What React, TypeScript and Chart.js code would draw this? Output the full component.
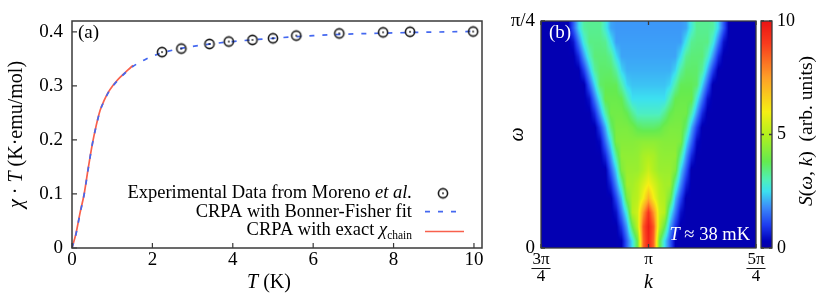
import React, { useEffect, useRef } from 'react';
import { Chart, registerables } from 'chart.js';

Chart.register(...registerables);
Chart.defaults.color = '#000';

const SERIF = "'Liberation Serif', 'DejaVu Serif', serif";

// ---------------- Panel (a) data ----------------
const expT = [2.24, 2.72, 3.42, 3.9, 4.49, 5.0, 5.58, 6.65, 7.74, 8.41, 9.98];
const expChiT = [0.3625, 0.369, 0.3775, 0.382, 0.385, 0.388, 0.393, 0.397, 0.399, 0.4, 0.4005];
const bfT = [0, 0.1, 0.2, 0.3, 0.4, 0.5, 0.6, 0.7, 0.8, 0.9, 1.0, 1.2, 1.4, 1.6, 1.8, 2.0, 2.5, 3.0, 3.5, 4.0, 5.0, 6.0, 7.0, 8.0, 9.0, 10.0];
const bfChiT = [0, 0.026, 0.064, 0.098, 0.145, 0.19, 0.225, 0.254, 0.272, 0.287, 0.298, 0.315, 0.329, 0.34, 0.348, 0.355, 0.366, 0.373, 0.378, 0.382, 0.388, 0.393, 0.396, 0.398, 0.3995, 0.4008];
const exactT = [0, 0.1, 0.2, 0.3, 0.4, 0.5, 0.6, 0.7, 0.8, 0.9, 1.0, 1.1, 1.2, 1.3, 1.4, 1.52];
const exactChiT = [0, 0.027, 0.065, 0.099, 0.146, 0.19, 0.226, 0.255, 0.273, 0.288, 0.299, 0.308, 0.316, 0.323, 0.33, 0.338];
const tTicks = [0, 2, 4, 6, 8, 10];
const tTickLabels = ['0', '2', '4', '6', '8', '10'];
const chiTicks = [0, 0.1, 0.2, 0.3, 0.4];
const chiTickLabels = ['0', '0.1', '0.2', '0.3', '0.4'];

// ---------------- Panel (b) data ----------------
// k in units of pi, omega in units of pi
const kCols = [0.75, 0.7625, 0.775, 0.7875, 0.8, 0.8125, 0.825, 0.8375, 0.85, 0.8625, 0.875, 0.8875, 0.9, 0.9125, 0.925, 0.9375, 0.95, 0.9625, 0.975, 0.9875, 1.0, 1.0125, 1.025, 1.0375, 1.05, 1.0625, 1.075, 1.0875, 1.1, 1.1125, 1.125, 1.1375, 1.15, 1.1625, 1.175, 1.1875, 1.2, 1.2125, 1.225, 1.2375, 1.25];
const omegaRows = [0.0078, 0.0234, 0.0391, 0.0547, 0.0703, 0.0859, 0.1016, 0.1172, 0.1328, 0.1484, 0.1641, 0.1797, 0.1953, 0.2109, 0.2266, 0.2422];
const intensity = [
  [0.2,0.2,0.2,0.2,0.2,0.2,0.2,0.2,0.2,0.2,0.2,0.2,0.2,0.2,0.2,0.3,1.4,2.5,4.0,8.3,9.6,8.3,4.0,2.5,1.4,0.3,0.2,0.2,0.2,0.2,0.2,0.2,0.2,0.2,0.2,0.2,0.2,0.2,0.2,0.2,0.2],
  [0.2,0.2,0.2,0.2,0.2,0.2,0.2,0.2,0.2,0.2,0.2,0.2,0.2,0.2,0.2,0.9,2.0,3.8,5.2,8.5,9.8,8.5,5.2,3.8,2.0,0.9,0.2,0.2,0.2,0.2,0.2,0.2,0.2,0.2,0.2,0.2,0.2,0.2,0.2,0.2,0.2],
  [0.2,0.2,0.2,0.2,0.2,0.2,0.2,0.2,0.2,0.2,0.2,0.2,0.2,0.2,0.5,1.6,2.8,5.0,5.4,7.6,9.2,7.6,5.4,5.0,2.8,1.6,0.5,0.2,0.2,0.2,0.2,0.2,0.2,0.2,0.2,0.2,0.2,0.2,0.2,0.2,0.2],
  [0.2,0.2,0.2,0.2,0.2,0.2,0.2,0.2,0.2,0.2,0.2,0.2,0.2,0.2,1.1,2.2,4.1,4.9,5.1,6.0,7.2,6.0,5.1,4.9,4.1,2.2,1.1,0.2,0.2,0.2,0.2,0.2,0.2,0.2,0.2,0.2,0.2,0.2,0.2,0.2,0.2],
  [0.2,0.2,0.2,0.2,0.2,0.2,0.2,0.2,0.2,0.2,0.2,0.2,0.2,0.7,1.8,3.1,4.75,4.75,5.0,5.5,6.0,5.5,5.0,4.75,4.75,3.1,1.8,0.7,0.2,0.2,0.2,0.2,0.2,0.2,0.2,0.2,0.2,0.2,0.2,0.2,0.2],
  [0.2,0.2,0.2,0.2,0.2,0.2,0.2,0.2,0.2,0.2,0.2,0.2,0.2,1.3,2.4,4.2,4.6,4.6,4.6,4.9,5.3,4.9,4.6,4.6,4.6,4.2,2.4,1.3,0.2,0.2,0.2,0.2,0.2,0.2,0.2,0.2,0.2,0.2,0.2,0.2,0.2],
  [0.2,0.2,0.2,0.2,0.2,0.2,0.2,0.2,0.2,0.2,0.2,0.2,0.8,1.9,3.3,4.45,4.45,4.45,4.5,4.8,4.9,4.8,4.5,4.45,4.45,4.45,3.3,1.9,0.8,0.2,0.2,0.2,0.2,0.2,0.2,0.2,0.2,0.2,0.2,0.2,0.2],
  [0.2,0.2,0.2,0.2,0.2,0.2,0.2,0.2,0.2,0.2,0.2,0.4,1.5,2.6,4.2,4.3,4.3,4.3,4.35,4.4,4.4,4.4,4.35,4.3,4.3,4.3,4.2,2.6,1.5,0.4,0.2,0.2,0.2,0.2,0.2,0.2,0.2,0.2,0.2,0.2,0.2],
  [0.2,0.2,0.2,0.2,0.2,0.2,0.2,0.2,0.2,0.2,0.2,1.0,2.1,3.5,4.15,4.15,4.15,4.0,3.7,3.6,3.6,3.6,3.7,4.0,4.15,4.15,4.15,3.5,2.1,1.0,0.2,0.2,0.2,0.2,0.2,0.2,0.2,0.2,0.2,0.2,0.2],
  [0.2,0.2,0.2,0.2,0.2,0.2,0.2,0.2,0.2,0.2,0.8,1.9,3.1,4.0,4.0,4.0,3.8,3.3,2.9,2.9,2.9,2.9,2.9,3.3,3.8,4.0,4.0,4.0,3.1,1.9,0.8,0.2,0.2,0.2,0.2,0.2,0.2,0.2,0.2,0.2,0.2],
  [0.2,0.2,0.2,0.2,0.2,0.2,0.2,0.2,0.2,0.5,1.6,2.7,3.9,3.9,3.9,3.8,3.1,2.5,2.5,2.5,2.5,2.5,2.5,2.5,3.1,3.8,3.9,3.9,3.9,2.7,1.6,0.5,0.2,0.2,0.2,0.2,0.2,0.2,0.2,0.2,0.2],
  [0.2,0.2,0.2,0.2,0.2,0.2,0.2,0.2,0.2,1.3,2.4,3.6,3.75,3.75,3.75,3.1,2.4,2.25,2.25,2.25,2.25,2.25,2.25,2.25,2.4,3.1,3.75,3.75,3.75,3.6,2.4,1.3,0.2,0.2,0.2,0.2,0.2,0.2,0.2,0.2,0.2],
  [0.2,0.2,0.2,0.2,0.2,0.2,0.2,0.2,1.0,2.1,3.2,3.6,3.6,3.6,3.2,2.4,2.1,2.1,2.1,2.1,2.1,2.1,2.1,2.1,2.1,2.4,3.2,3.6,3.6,3.6,3.2,2.1,1.0,0.2,0.2,0.2,0.2,0.2,0.2,0.2,0.2],
  [0.2,0.2,0.2,0.2,0.2,0.2,0.2,0.8,1.9,2.9,3.5,3.5,3.5,3.3,2.5,2.0,2.0,2.0,2.0,2.0,2.0,2.0,2.0,2.0,2.0,2.0,2.5,3.3,3.5,3.5,3.5,2.9,1.9,0.8,0.2,0.2,0.2,0.2,0.2,0.2,0.2],
  [0.2,0.2,0.2,0.2,0.2,0.2,0.5,1.6,2.7,3.4,3.4,3.4,3.3,2.6,1.95,1.95,1.95,1.95,1.95,1.95,1.95,1.95,1.95,1.95,1.95,1.95,1.95,2.6,3.3,3.4,3.4,3.4,2.7,1.6,0.5,0.2,0.2,0.2,0.2,0.2,0.2],
  [0.2,0.2,0.2,0.2,0.2,0.2,1.3,2.4,3.2,3.3,3.3,3.3,2.7,2.0,1.9,1.9,1.9,1.9,1.9,1.9,1.9,1.9,1.9,1.9,1.9,1.9,1.9,2.0,2.7,3.3,3.3,3.3,3.2,2.4,1.3,0.2,0.2,0.2,0.2,0.2,0.2],
];
const kTicks = [0.75, 1.0, 1.25];
const kTickLabels = [['3π', '4'], ['π'], ['5π', '4']];
const omegaTicks = [0, 0.25];
const omegaTickLabels = ['0', 'π/4'];
const cbarTicks = [0, 5, 10];
const cbarTickLabels = ['0', '5', '10'];

// colour map (style)
const cmapStops = [0, 0.3, 1.0, 1.8, 2.5, 3.0, 3.8, 5.0, 6.0, 7.5, 9.0, 10];
const cmapColors = [
  [10, 0, 165], [0, 0, 185], [30, 60, 240], [60, 140, 250], [60, 225, 240], [80, 240, 185],
  [100, 235, 80], [180, 240, 30], [245, 240, 20], [255, 160, 40], [250, 60, 30], [235, 20, 20],
];

const BLUE = '#4468f0';
const RED = '#f8604c';
const FRAME = '#3a3a3a';

function locate(arr: number[], v: number): [number, number] {
  const n = arr.length;
  if (v <= arr[0]) return [0, 0];
  if (v >= arr[n - 1]) return [n - 2, 1];
  let lo = 0, hi = n - 1;
  while (hi - lo > 1) {
    const mid = (lo + hi) >> 1;
    if (arr[mid] <= v) lo = mid; else hi = mid;
  }
  return [lo, (v - arr[lo]) / (arr[hi] - arr[lo])];
}

function cmap(v: number): number[] {
  const [i, t] = locate(cmapStops, v);
  const c0 = cmapColors[i], c1 = cmapColors[i + 1];
  return [c0[0] + (c1[0] - c0[0]) * t, c0[1] + (c1[1] - c0[1]) * t, c0[2] + (c1[2] - c0[2]) * t];
}

type Part = { t: string; it?: boolean; sub?: boolean };
function font(size: number, it?: boolean) {
  return `${it ? 'italic ' : ''}${size}px ${SERIF}`;
}
function drawRich(ctx: CanvasRenderingContext2D, parts: Part[], x: number, y: number, size: number,
  align: 'left' | 'center' | 'right', color: string, rot = 0) {
  ctx.save();
  ctx.translate(x, y);
  ctx.rotate(rot);
  ctx.textBaseline = 'middle';
  ctx.textAlign = 'left';
  ctx.fillStyle = color;
  let w = 0;
  const ws = parts.map((p) => {
    ctx.font = font(p.sub ? size * 0.62 : size, p.it);
    const m = ctx.measureText(p.t).width;
    w += m;
    return m;
  });
  let cx = align === 'left' ? 0 : align === 'center' ? -w / 2 : -w;
  parts.forEach((p, i) => {
    ctx.font = font(p.sub ? size * 0.62 : size, p.it);
    ctx.fillText(p.t, cx, p.sub ? size * 0.32 : 0);
    cx += ws[i];
  });
  ctx.restore();
}

function makeCircle() {
  const c = document.createElement('canvas');
  c.width = 14; c.height = 14;
  const g = c.getContext('2d')!;
  g.strokeStyle = '#1a1a1a';
  g.lineWidth = 1.6;
  g.beginPath(); g.arc(7, 7, 4.6, 0, Math.PI * 2); g.stroke();
  g.fillStyle = '#1a1a1a';
  g.beginPath(); g.arc(7, 7, 0.9, 0, Math.PI * 2); g.fill();
  return c;
}

function setTicks(values: number[]) {
  return (s: any) => { s.ticks = values.map((v) => ({ value: v })); };
}

const TITLE = 20;
const LEG = 18.5;

const panelAPlugin = {
  id: 'panelA',
  afterDraw(chart: any) {
    const { ctx, chartArea: a, scales: { x, y } } = chart;
    ctx.save();
    ctx.strokeStyle = FRAME;
    ctx.lineWidth = 1.5;
    ctx.strokeRect(a.left, a.top, a.right - a.left, a.bottom - a.top);
    ctx.lineWidth = 1.2;
    ctx.beginPath();
    tTicks.forEach((v) => { const px = x.getPixelForValue(v); ctx.moveTo(px, a.bottom); ctx.lineTo(px, a.bottom - 5); });
    chiTicks.forEach((v) => { const py = y.getPixelForValue(v); ctx.moveTo(a.left, py); ctx.lineTo(a.left + 5, py); });
    ctx.stroke();
    ctx.restore();

    drawRich(ctx, [{ t: '(a)' }], a.left + 6, a.top + 12, 19, 'left', '#000');
    // axis titles
    drawRich(ctx, [{ t: 'T', it: true }, { t: ' (K)' }], x.getPixelForValue(5) - 4, 283, TITLE, 'center', '#000');
    drawRich(ctx, [{ t: 'χ', it: true }, { t: ' · ' }, { t: 'T', it: true }, { t: ' (K·emu/mol)' }],
      17, (a.top + a.bottom) / 2, TITLE, 'center', '#000', -Math.PI / 2);

    // legend
    const tx = 412, mx0 = 425, mx1 = 464;
    const rows = [193.3, 211.7, 230];
    drawRich(ctx, [{ t: 'Experimental Data from Moreno ' }, { t: 'et al.', it: true }], tx, rows[0], LEG, 'right', '#000');
    drawRich(ctx, [{ t: 'CRPA with Bonner-Fisher fit' }], tx, rows[1], LEG, 'right', '#000');
    drawRich(ctx, [{ t: 'CRPA with exact ' }, { t: 'χ', it: true }, { t: 'chain', sub: true }], tx, rows[2], LEG, 'right', '#000');
    ctx.save();
    ctx.drawImage(circleImg, 443 - 7, rows[0] - 7);
    ctx.strokeStyle = BLUE;
    ctx.lineWidth = 1.7;
    ctx.setLineDash([5, 8]);
    ctx.beginPath(); ctx.moveTo(mx0, rows[1]); ctx.lineTo(mx1, rows[1]); ctx.stroke();
    ctx.setLineDash([]);
    ctx.strokeStyle = RED;
    ctx.beginPath(); ctx.moveTo(mx0, rows[2] + 1.5); ctx.lineTo(mx1, rows[2] + 1.5); ctx.stroke();
    ctx.restore();
  },
};

const heatPlugin = {
  id: 'heat',
  beforeDatasetsDraw(chart: any) {
    const { ctx, chartArea: a, scales: { x, y } } = chart;
    const L = Math.round(a.left), T = Math.round(a.top);
    const W = Math.round(a.right) - L, H = Math.round(a.bottom) - T;
    const img = ctx.createImageData(W, H);
    const cols: [number, number][] = [];
    for (let px = 0; px < W; px++) cols.push(locate(kCols, x.getValueForPixel(L + px + 0.5)));
    for (let py = 0; py < H; py++) {
      const [ri, rt] = locate(omegaRows, y.getValueForPixel(T + py + 0.5));
      const r0 = intensity[ri], r1 = intensity[ri + 1];
      for (let px = 0; px < W; px++) {
        const [cj, ct] = cols[px];
        const v0 = r0[cj] + (r0[cj + 1] - r0[cj]) * ct;
        const v1 = r1[cj] + (r1[cj + 1] - r1[cj]) * ct;
        const c = cmap(v0 + (v1 - v0) * rt);
        const o = (py * W + px) * 4;
        img.data[o] = c[0]; img.data[o + 1] = c[1]; img.data[o + 2] = c[2]; img.data[o + 3] = 255;
      }
    }
    ctx.putImageData(img, L, T);
  },
  afterDraw(chart: any) {
    const { ctx, chartArea: a, scales: { x, y } } = chart;
    ctx.save();
    ctx.strokeStyle = FRAME;
    ctx.lineWidth = 1.3;
    ctx.strokeRect(a.left, a.top, a.right - a.left, a.bottom - a.top);
    ctx.beginPath();
    kTicks.forEach((v) => {
      const px = x.getPixelForValue(v);
      ctx.moveTo(px, a.bottom); ctx.lineTo(px, a.bottom - 4);
      ctx.moveTo(px, a.top); ctx.lineTo(px, a.top + 4);
    });
    omegaTicks.forEach((v) => {
      const py = y.getPixelForValue(v);
      ctx.moveTo(a.left, py); ctx.lineTo(a.left + 4, py);
    });
    ctx.stroke();
    // fraction bars under tick numerators
    ctx.font = font(17);
    ctx.strokeStyle = '#000';
    ctx.lineWidth = 0.9;
    kTicks.forEach((v, i) => {
      const lab = kTickLabels[i];
      if (lab.length > 1) {
        const w = ctx.measureText(lab[0]).width + 2;
        const px = x.getPixelForValue(v);
        ctx.beginPath();
        ctx.moveTo(px - w / 2, a.bottom + 20.5); ctx.lineTo(px + w / 2, a.bottom + 20.5);
        ctx.stroke();
      }
    });
    ctx.restore();
    drawRich(ctx, [{ t: '(b)' }], a.left + 8, a.top + 12, 19, 'left', '#fff');
    drawRich(ctx, [{ t: 'T', it: true }, { t: ' ≈ 38 mK' }], a.right - 6, a.bottom - 13, 18.5, 'right', '#fff');
    drawRich(ctx, [{ t: 'k', it: true }], x.getPixelForValue(1), a.bottom + 35, TITLE, 'center', '#000');
    drawRich(ctx, [{ t: 'ω', it: true }], 28, (a.top + a.bottom) / 2, TITLE, 'center', '#000', -Math.PI / 2);
  },
};

const cbarPlugin = {
  id: 'cbar',
  beforeDatasetsDraw(chart: any) {
    const { ctx, chartArea: a, scales: { y } } = chart;
    const T = Math.round(a.top), B = Math.round(a.bottom);
    for (let py = T; py < B; py++) {
      const c = cmap(y.getValueForPixel(py + 0.5));
      ctx.fillStyle = `rgb(${c[0] | 0},${c[1] | 0},${c[2] | 0})`;
      ctx.fillRect(a.left, py, a.right - a.left, 1);
    }
  },
  afterDraw(chart: any) {
    const { ctx, chartArea: a, scales: { y } } = chart;
    ctx.save();
    ctx.strokeStyle = FRAME;
    ctx.lineWidth = 1.3;
    ctx.strokeRect(a.left, a.top, a.right - a.left, a.bottom - a.top);
    ctx.beginPath();
    cbarTicks.forEach((v) => {
      const py = y.getPixelForValue(v);
      ctx.moveTo(a.left, py); ctx.lineTo(a.left + 3, py);
      ctx.moveTo(a.right, py); ctx.lineTo(a.right - 3, py);
    });
    ctx.stroke();
    ctx.restore();
    drawRich(ctx, [{ t: 'S', it: true }, { t: '(' }, { t: 'ω', it: true }, { t: ', ' }, { t: 'k', it: true }, { t: ')  (arb. units)' }],
      52, 131, 19.5, 'center', '#000', -Math.PI / 2);
  },
};

let circleImg: HTMLCanvasElement;

export default function App() {
  const aRef = useRef<HTMLCanvasElement>(null);
  const bRef = useRef<HTMLCanvasElement>(null);
  const cRef = useRef<HTMLCanvasElement>(null);

  useEffect(() => {
    circleImg = makeCircle();
    const tickFont = { family: SERIF, size: 19, lineHeight: 1 };
    const noGrid = { display: false, drawTicks: false };
    const noBorder = { display: false };

    const chartA = new Chart(aRef.current!, {
      type: 'line',
      data: {
        datasets: [
          {
            label: 'Experimental Data from Moreno et al.',
            data: expT.map((t, i) => ({ x: t, y: expChiT[i] })),
            showLine: false,
            pointStyle: circleImg,
            pointRadius: 5,
            order: 0,
          },
          {
            label: 'CRPA with Bonner-Fisher fit',
            data: bfT.map((t, i) => ({ x: t, y: bfChiT[i] })),
            borderColor: BLUE,
            borderWidth: 1.7,
            borderDash: [5, 8],
            pointRadius: 0,
            cubicInterpolationMode: 'monotone',
            fill: false,
            order: 1,
          },
          {
            label: 'CRPA with exact χchain',
            data: exactT.map((t, i) => ({ x: t, y: exactChiT[i] })),
            borderColor: RED,
            borderWidth: 1.7,
            pointRadius: 0,
            cubicInterpolationMode: 'monotone',
            fill: false,
            order: 2,
          },
        ],
      } as any,
      options: {
        responsive: false,
        animation: false,
        devicePixelRatio: 1,
        layout: { padding: { top: 21, right: 18, left: 0, bottom: 0 } },
        plugins: { legend: { display: false }, tooltip: { enabled: false } },
        scales: {
          x: {
            type: 'linear', min: 0, max: 10.2,
            afterBuildTicks: setTicks(tTicks),
            afterFit: (s: any) => { s.height = 49; s.paddingLeft = 0; s.paddingRight = 0; },
            grid: noGrid, border: noBorder,
            ticks: { font: tickFont, padding: 3, maxRotation: 0, autoSkip: false, callback: (_v: any, i: number) => tTickLabels[i] },
          },
          y: {
            type: 'linear', min: 0, max: 0.42,
            afterBuildTicks: setTicks(chiTicks),
            afterFit: (s: any) => { s.width = 72; s.paddingTop = 0; s.paddingBottom = 0; },
            grid: noGrid, border: noBorder,
            ticks: { font: tickFont, padding: 9, autoSkip: false, callback: (_v: any, i: number) => chiTickLabels[i] },
          },
        },
      } as any,
      plugins: [panelAPlugin],
    });

    const chartB = new Chart(bRef.current!, {
      type: 'scatter',
      data: { datasets: [] },
      options: {
        responsive: false,
        animation: false,
        devicePixelRatio: 1,
        layout: { padding: { top: 21, right: 24, left: 0, bottom: 0 } },
        plugins: { legend: { display: false }, tooltip: { enabled: false } },
        scales: {
          x: {
            type: 'linear', min: 0.75, max: 1.25,
            afterBuildTicks: setTicks(kTicks),
            afterFit: (s: any) => { s.height = 49; s.paddingLeft = 0; s.paddingRight = 0; },
            grid: noGrid, border: noBorder,
            ticks: { font: { family: SERIF, size: 17, lineHeight: 1 }, padding: 3, maxRotation: 0, autoSkip: false, callback: (_v: any, i: number) => kTickLabels[i] },
          },
          y: {
            type: 'linear', min: 0, max: 0.25,
            afterBuildTicks: setTicks(omegaTicks),
            afterFit: (s: any) => { s.width = 51; s.paddingTop = 0; s.paddingBottom = 0; },
            grid: noGrid, border: noBorder,
            ticks: { font: tickFont, padding: 6, autoSkip: false, callback: (_v: any, i: number) => omegaTickLabels[i] },
          },
        },
      } as any,
      plugins: [heatPlugin],
    });

    const chartC = new Chart(cRef.current!, {
      type: 'scatter',
      data: { datasets: [] },
      options: {
        responsive: false,
        animation: false,
        devicePixelRatio: 1,
        layout: { padding: { top: 21, right: 0, left: 6, bottom: 49 } },
        plugins: { legend: { display: false }, tooltip: { enabled: false } },
        scales: {
          x: { type: 'linear', display: false, min: 0, max: 1 },
          y: {
            type: 'linear', position: 'right', min: 0, max: 10,
            afterBuildTicks: setTicks(cbarTicks),
            afterFit: (s: any) => { s.width = 59; s.paddingTop = 0; s.paddingBottom = 0; },
            grid: noGrid, border: noBorder,
            ticks: { font: { family: SERIF, size: 18, lineHeight: 1 }, padding: 5, autoSkip: false, callback: (_v: any, i: number) => cbarTickLabels[i] },
          },
        },
      } as any,
      plugins: [cbarPlugin],
    });

    return () => { chartA.destroy(); chartB.destroy(); chartC.destroy(); };
  }, []);

  return (
    <div style={{ position: 'fixed', left: 0, top: 0, width: 831, height: 297, background: '#fff' }}>
      <canvas ref={aRef} width={500} height={297} style={{ position: 'absolute', left: 0, top: 0 }} />
      <canvas ref={bRef} width={290} height={297} style={{ position: 'absolute', left: 490, top: 0 }} />
      <canvas ref={cRef} width={76} height={297} style={{ position: 'absolute', left: 755, top: 0 }} />
    </div>
  );
}
